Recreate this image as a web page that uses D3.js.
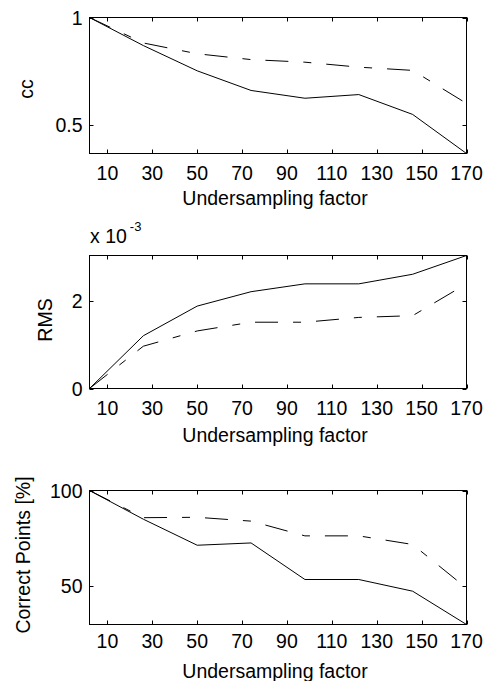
<!DOCTYPE html>
<html>
<head>
<meta charset="utf-8">
<script src="https://cdn.jsdelivr.net/npm/d3@7"></script>
<style>
  html, body { margin: 0; padding: 0; background: #fff; }
  svg { display: block; font-family: "Liberation Sans", Arial, sans-serif; }
</style>
</head>
<body>
<svg id="chart" width="493" height="681"></svg>
<script>
// ---- data ----
const factors = [2, 26, 50, 74, 98, 122, 146, 170];
const xTickValues = [10, 30, 50, 70, 90, 110, 130, 150, 170];

const ccSolid  = [1.000, 0.870, 0.753, 0.662, 0.626, 0.643, 0.551, 0.370];
const ccDashed = [1.000, 0.882, 0.832, 0.805, 0.793, 0.770, 0.755, 0.602];
const ccTicks  = [0.5, 1];
const ccTickLabels = ["0.5", "1"];

const rmsSolid  = [0, 1.21, 1.89, 2.22, 2.40, 2.40, 2.62, 3.05]; // x 10^-3
const rmsDashed = [0, 0.97, 1.32, 1.52, 1.52, 1.63, 1.67, 2.40];
const rmsTicks  = [0, 2];
const rmsTickLabels = ["0", "2"];

const cpSolid  = [100, 85.0, 71.4, 72.6, 53.5, 53.5, 47.4, 30.0];
const cpDashed = [100, 85.8, 86.0, 84.0, 76.3, 76.3, 71.8, 49.0];
const cpTicks  = [50, 100];
const cpTickLabels = ["50", "100"];

const xLabelText = "Undersampling factor";

// ---- layout ----
const svg = d3.select("#chart");
const left = 89.5, right = 466.5;
const x = d3.scaleLinear().domain([2, 170]).range([left, right]);

const panels = [
  { top: 17.5, bottom: 153.5, domain: [0.37, 1], solid: ccSolid, dashed: ccDashed,
    ticks: ccTicks, tickLabels: ccTickLabels, ylabel: "cc", ylabelX: 33, ylabelY: 89,
    tickBase: 180, xlabelBase: 205 },
  { top: 255.5, bottom: 388.5, domain: [0, 3.05], solid: rmsSolid, dashed: rmsDashed,
    ticks: rmsTicks, tickLabels: rmsTickLabels, ylabel: "RMS", ylabelX: 51.5, ylabelY: 320,
    tickBase: 415, xlabelBase: 442, exponent: true },
  { top: 490.5, bottom: 624.5, domain: [30, 100], solid: cpSolid, dashed: cpDashed,
    ticks: cpTicks, tickLabels: cpTickLabels, ylabel: "Correct Points [%]", ylabelX: 30, ylabelY: 555,
    tickBase: 648, xlabelBase: 678 }
];

const fs = 19.5;
const tickLen = 4;

panels.forEach(p => {
  const y = d3.scaleLinear().domain(p.domain).range([p.bottom, p.top]);
  const g = svg.append("g");

  // lines
  const line = d3.line().x((d, i) => x(factors[i])).y(d => y(d));
  g.append("path").datum(p.dashed).attr("d", line)
    .attr("fill", "none").attr("stroke", "#000").attr("stroke-width", 1)
    .attr("stroke-dasharray", "23,15,8,15");
  g.append("path").datum(p.solid).attr("d", line)
    .attr("fill", "none").attr("stroke", "#000").attr("stroke-width", 1);

  // box
  g.append("rect").attr("x", left).attr("y", p.top)
    .attr("width", right - left).attr("height", p.bottom - p.top)
    .attr("fill", "none").attr("stroke", "#000").attr("stroke-width", 1);

  // x ticks (inward, top & bottom)
  xTickValues.forEach(v => {
    const xx = Math.round(x(v)) + 0.5;
    g.append("line").attr("x1", xx).attr("x2", xx).attr("y1", p.bottom).attr("y2", p.bottom - tickLen).attr("stroke", "#000");
    g.append("line").attr("x1", xx).attr("x2", xx).attr("y1", p.top).attr("y2", p.top + tickLen).attr("stroke", "#000");
    g.append("text").attr("x", x(v)).attr("y", p.tickBase)
      .attr("text-anchor", "middle").attr("font-size", fs).text(v);
  });

  // y ticks (inward, left & right)
  p.ticks.forEach((v, i) => {
    const yy = Math.round(y(v)) + 0.5;
    g.append("line").attr("x1", left).attr("x2", left + tickLen).attr("y1", yy).attr("y2", yy).attr("stroke", "#000");
    g.append("line").attr("x1", right).attr("x2", right - tickLen).attr("y1", yy).attr("y2", yy).attr("stroke", "#000");
    g.append("text").attr("x", left - 7).attr("y", y(v) + 7)
      .attr("text-anchor", "end").attr("font-size", fs).text(p.tickLabels[i]);
  });

  // x label
  g.append("text").attr("x", (left + right) / 2 - 3).attr("y", p.xlabelBase)
    .attr("text-anchor", "middle").attr("font-size", fs).text(xLabelText);

  // y label
  g.append("text").attr("transform", `translate(${p.ylabelX},${p.ylabelY}) rotate(-90)`)
    .attr("text-anchor", "middle").attr("font-size", fs).text(p.ylabel);

  if (p.exponent) {
    const t = g.append("text").attr("x", 90).attr("y", p.top - 13).attr("font-size", fs);
    t.append("tspan").text("x 10");
    t.append("tspan").attr("dx", 3).attr("dy", -12).attr("font-size", 13).text("-3");
  }
});
</script>
</body>
</html>
